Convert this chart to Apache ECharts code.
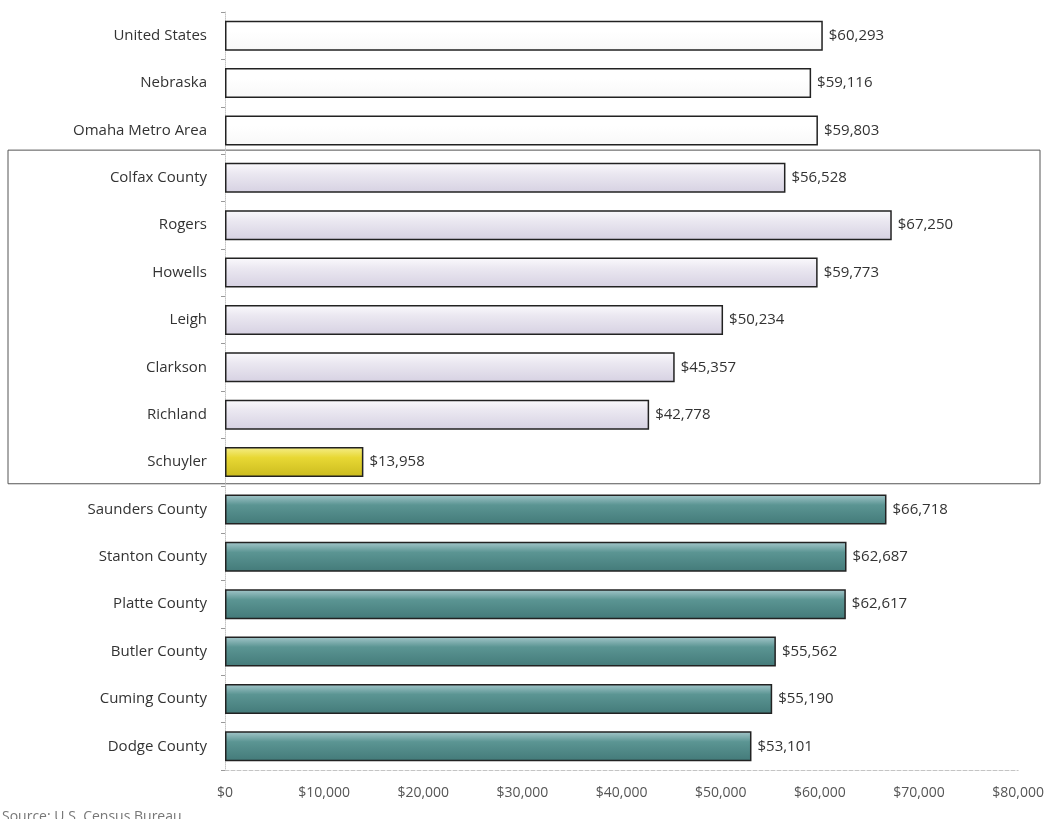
<!DOCTYPE html>
<html><head><meta charset="utf-8">
<script src="https://cdn.jsdelivr.net/npm/echarts@6/dist/echarts.min.js"></script>
<style>html,body{margin:0;padding:0;background:#fff}#c{width:1047px;height:819px}</style>
</head><body><div id="c"></div>
<script>
const categories = ["United States","Nebraska","Omaha Metro Area","Colfax County","Rogers","Howells","Leigh","Clarkson","Richland","Schuyler","Saunders County","Stanton County","Platte County","Butler County","Cuming County","Dodge County"];
const incomes = [60293,59116,59803,56528,67250,59773,50234,45357,42778,13958,66718,62687,62617,55562,55190,53101];
const groups = ["ref","ref","ref","place","place","place","place","place","place","highlight","county","county","county","county","county","county"];
const xTicks = [0,10000,20000,30000,40000,50000,60000,70000,80000];

function grad(c0,c1,c2){return {type:'linear',x:0,y:0,x2:0,y2:1,colorStops:[{offset:0,color:c0},{offset:0.35,color:c1},{offset:1,color:c2}]};}
const groupStyle = {
  ref: grad('#ffffff','#ffffff','#f8f8f8'),
  place: grad('#fbfafd','#ebe8f1','#d6d1e2'),
  highlight: grad('#f5ee8a','#e8d834','#cbbb1e'),
  county: grad('#a6c8cc','#5b9593','#437a79')
};
const fmt = v => '$' + v.toLocaleString('en-US');

const chart = echarts.init(document.getElementById('c'));
chart.setOption({
  animation:false,
  textStyle:{fontFamily:'Open Sans'},
  grid:{left:225,right:22,top:12,bottom:49,containLabel:false},
  xAxis:{type:'value',min:xTicks[0],max:xTicks[xTicks.length-1],interval:10000,
    axisLine:{show:true,lineStyle:{color:'#c4c4c4',type:'dashed'}},
    axisTick:{show:false},splitLine:{show:false},
    axisLabel:{formatter:v=>fmt(v),color:'#555',fontSize:14,margin:16}},
  yAxis:{type:'category',data:categories,inverse:true,
    axisLine:{show:true,lineStyle:{color:'#c4c4c4',type:'dotted'}},
    axisTick:{show:true,length:4,lineStyle:{color:'#999'}},
    axisLabel:{color:'#333',fontSize:15,margin:18}},
  series:[{type:'bar',barWidth:30,
    data:incomes.map((v,i)=>({value:v,itemStyle:{color:groupStyle[groups[i]]}})),
    itemStyle:{borderColor:'#222',borderWidth:1.5},
    label:{show:true,position:'right',distance:6,formatter:p=>fmt(p.value),color:'#333',fontSize:15}
  }]
});

// Box around the local places group, derived from axis scale
const first = categories.indexOf('Colfax County'), last = categories.indexOf('Schuyler');
const yTop = chart.convertToPixel({yAxisIndex:0}, categories[first]);
const yBot = chart.convertToPixel({yAxisIndex:0}, categories[last]);
const step = chart.convertToPixel({yAxisIndex:0}, categories[first+1]) - yTop;
chart.setOption({graphic:[
  {type:'rect',shape:{x:8,y:yTop-step/2-4,width:1032,height:(yBot-yTop)+step+2},style:{fill:'none',stroke:'#555',lineWidth:1}},
  {type:'text',left:2,top:810,style:{text:'Source: U.S. Census Bureau',fill:'#777',font:'14px Open Sans'}}
]});
</script></body></html>
